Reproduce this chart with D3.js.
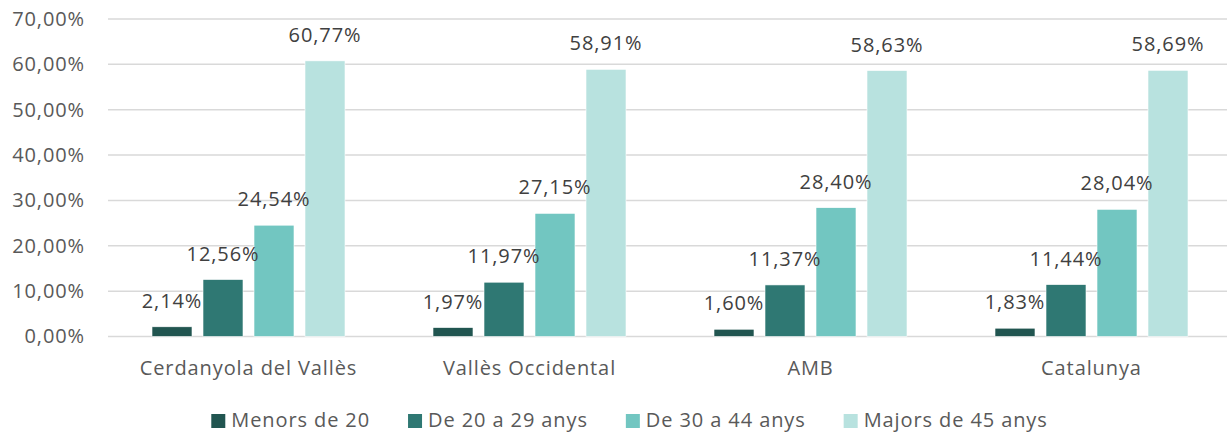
<!DOCTYPE html>
<html>
<head>
<meta charset="utf-8">
<script src="https://cdn.jsdelivr.net/npm/d3@7"></script>
<style>
  body { margin: 0; background: #fff; }
  text { font-family: "Open Sans", sans-serif; letter-spacing: 0.9px; }
</style>
</head>
<body>
<div id="chart"></div>
<script>
const categories = ["Cerdanyola del Vallès", "Vallès Occidental", "AMB", "Catalunya"];
const seriesNames = ["Menors de 20", "De 20 a 29 anys", "De 30 a 44 anys", "Majors de 45 anys"];
const menors20 = [2.14, 1.97, 1.60, 1.83];
const de20a29 = [12.56, 11.97, 11.37, 11.44];
const de30a44 = [24.54, 27.15, 28.40, 28.04];
const majors45 = [60.77, 58.91, 58.63, 58.69];
const yTicks = [0, 10, 20, 30, 40, 50, 60, 70];
const colors = ["#215550", "#2f7873", "#72c6c1", "#b8e2df"];

const seriesValues = [menors20, de20a29, de30a44, majors45];

const w = 1227;
const h = 432;
const fs = 20;

const locale = d3.formatLocale({ decimal: ",", thousands: ".", grouping: [3], currency: ["", "€"] });
const fmt = (v) => locale.format(".2f")(v) + "%";

const svg = d3
  .select("#chart")
  .append("svg")
  .attr("width", w)
  .attr("height", h);

const x0 = d3.scaleBand(categories, [108, 1232]).padding(0);
const x1 = d3.scaleBand(d3.range(4), [44, 237]).paddingInner(0.2157).paddingOuter(0);
const y = d3.scaleLinear([0, 70], [336.5, 19]);

// gridlines
svg
  .append("g")
  .selectAll("line")
  .data(yTicks)
  .join("line")
  .attr("x1", 108)
  .attr("x2", w)
  .attr("y1", (d) => y(d))
  .attr("y2", (d) => y(d))
  .attr("stroke", "#d9d9d9")
  .attr("stroke-width", 1.5);

// y axis labels
const gy = svg
  .append("g")
  .attr("transform", "translate(85,0)")
  .call(d3.axisLeft(y).tickValues(yTicks).tickSize(0).tickPadding(0).tickFormat(fmt));
gy.select(".domain").remove();
gy.selectAll("text")
  .attr("font-size", fs)
  .attr("fill", "#595959")
  .attr("font-family", "Open Sans, sans-serif");

// bars
const groups = svg
  .append("g")
  .selectAll("g")
  .data(categories)
  .join("g")
  .attr("transform", (d) => `translate(${x0(d)},0)`);

groups
  .selectAll("rect")
  .data((d, i) => seriesValues.map((vals, s) => ({ s, v: vals[i] })))
  .join("rect")
  .attr("x", (d) => x1(d.s))
  .attr("width", x1.bandwidth())
  .attr("y", (d) => y(d.v))
  .attr("height", (d) => y(0) - y(d.v))
  .attr("fill", (d) => colors[d.s])
  .attr("stroke", "#fff")
  .attr("stroke-width", 0.6);

groups
  .selectAll("text.lbl")
  .data((d, i) => seriesValues.map((vals, s) => ({ s, v: vals[i] })))
  .join("text")
  .attr("class", "lbl")
  .attr("x", (d) => x1(d.s) + x1.bandwidth() / 2)
  .attr("y", (d) => y(d.v) - 19)
  .attr("text-anchor", "middle")
  .attr("font-size", fs)
  .attr("fill", "#404040")
  .text((d) => fmt(d.v));

// x axis labels
const gx = svg
  .append("g")
  .attr("transform", "translate(0,375)")
  .call(d3.axisBottom(x0).tickSize(0).tickPadding(0));
gx.select(".domain").remove();
gx.selectAll("text")
  .attr("dy", 0)
  .attr("font-size", fs)
  .attr("fill", "#595959")
  .attr("font-family", "Open Sans, sans-serif");

// legend
const legend = svg.append("g");
const items = legend
  .selectAll("g")
  .data(seriesNames)
  .join("g");
items
  .append("rect")
  .attr("width", 14)
  .attr("height", 14)
  .attr("y", 414)
  .attr("fill", (d, i) => colors[i]);
items
  .append("text")
  .attr("x", 20)
  .attr("y", 427)
  .attr("font-size", fs)
  .attr("fill", "#595959")
  .text((d) => d);

const widths = [];
items.each(function () {
  widths.push(20 + d3.select(this).select("text").node().getComputedTextLength());
});
const gap = 38;
const total = d3.sum(widths) + gap * (widths.length - 1);
let cx = 629.5 - total / 2;
items.attr("transform", (d, i) => {
  const t = `translate(${cx},0)`;
  cx += widths[i] + gap;
  return t;
});
</script>
</body>
</html>
